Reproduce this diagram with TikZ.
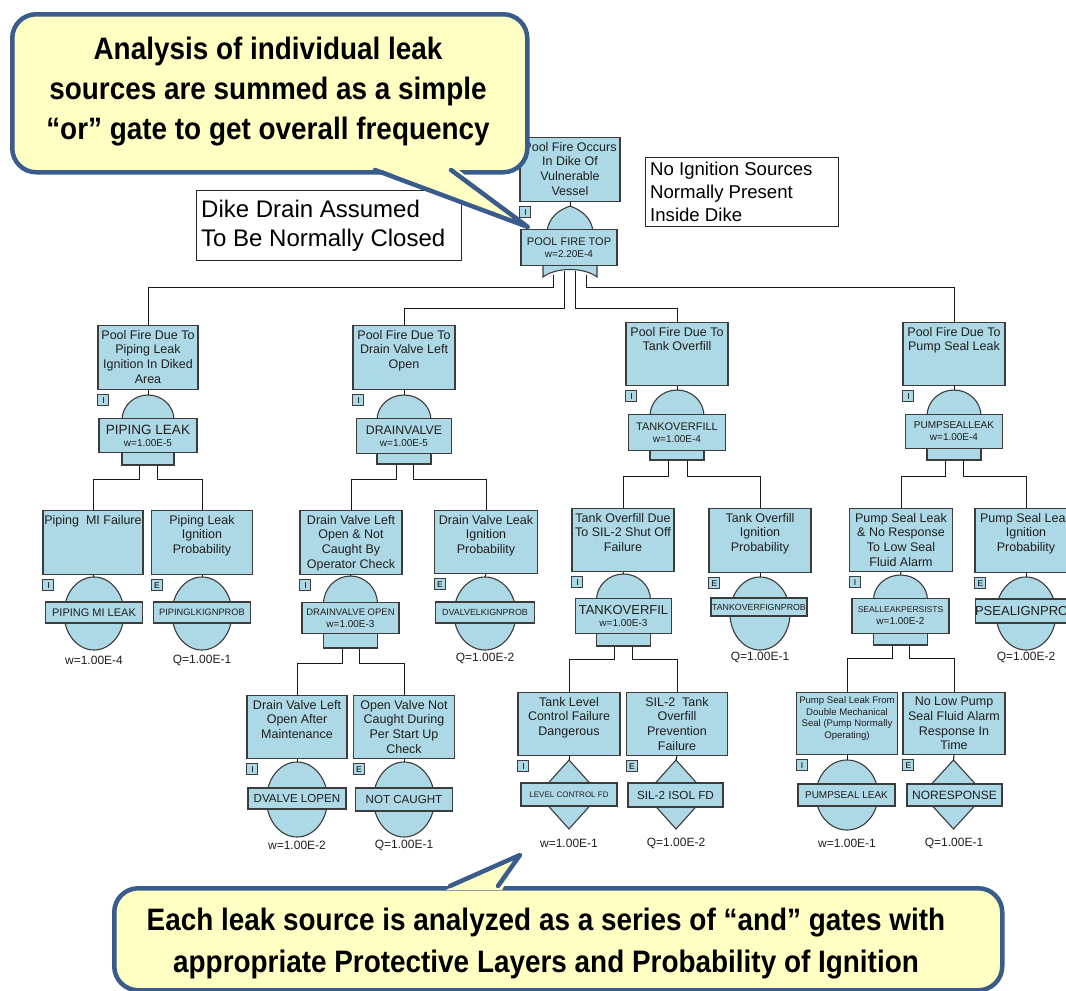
\documentclass[tikz,border=0pt]{standalone}
\usepackage{fontspec}
\setmainfont{Liberation Sans}
\newfontfamily\calloutfont{Liberation Sans}[FakeStretch=0.9]
\definecolor{evblue}{RGB}{173,216,230}
\definecolor{edge}{RGB}{60,60,60}
\definecolor{callline}{RGB}{58,92,140}
\definecolor{callfill}{RGB}{255,255,196}

% label font: size with fixed line spacing
\newcommand\lf[1]{\fontsize{#1}{15}\selectfont}
% description box with top-aligned text: name, cx, top, width, height, text
\newcommand\descnode[6]{%
  \node[descbox, minimum width=#4, minimum height=#5, anchor=north] (#1) at (#2,#3) {};
  \node[desctext, anchor=north] (#1-t) at (#2,#3+5) {#6};}
% small event-type flag under a description box
\newcommand\flagnode[2]{\node[flag] (#1-f) at ([yshift=-4pt]#1.south west) {#2};}
% AND gate: name, cx, dome top, label top, label bottom, foot bottom, dome half width, label width
\newcommand\andgate[8]{%
  \pgfmathsetmacro\domery{#4+2-#3}%
  \path[gate] (#2-#7,#4+2) arc[start angle=180,end angle=0,x radius=#7pt,y radius=\domery pt] -- cycle;
  \path[gate] (#2-#7,#5-2) rectangle (#2+#7,#6);
  \coordinate (#1-in) at (#2,#3);
  \node[lbl, minimum width=#8, minimum height={#5-#4}, anchor=north] (#1) at (#2,#4)}
% round basic event: name, cx, cy, rx, ry
\newcommand\circevent[5]{%
  \path[gate] (#2,#3) ellipse [x radius=#4pt, y radius=#5pt];
  \coordinate (#1-in) at (#2,#3-#5);}
% diamond event: name, cx, top, bottom, half width
\newcommand\diamevent[5]{%
  \path[gate] (#2,#3) -- (#2+#5,#3/2+#4/2) -- (#2,#4) -- (#2-#5,#3/2+#4/2) -- cycle;
  \coordinate (#1-in) at (#2,#3);}

\begin{document}
\begin{tikzpicture}[x=1pt,y=-1pt,
  wire/.style={draw=black!90, line width=1pt},
  descbox/.style={draw=edge, line width=1.1pt, fill=evblue, inner sep=0pt},
  desctext/.style={align=center, inner sep=0pt, text=black!88, font=\fontsize{12.5}{14.7}\selectfont},
  smalltext/.style={align=center, inner sep=0pt, text=black!88, font=\fontsize{9.6}{11.5}\selectfont},
  flag/.style={draw=edge, line width=1pt, fill=evblue, minimum width=11pt, minimum height=11pt, inner sep=0pt, anchor=north west, font=\fontsize{8.5}{9}\selectfont},
  gate/.style={draw=edge, line width=1.1pt, fill=evblue},
  lbl/.style={draw=edge, line width=1.1pt, fill=evblue, inner sep=0pt, align=center, text=black!88},
  prob/.style={inner sep=0pt, text=black!88, font=\fontsize{12}{14}\selectfont},
  notebox/.style={draw=black!85, line width=0.9pt, fill=white, inner sep=0pt, anchor=north west},
  notetext/.style={align=left, inner sep=0pt, anchor=north west},
  callbox/.style={draw=callline, line width=4.5pt, fill=callfill, rounded corners=24pt, inner sep=0pt, anchor=north west},
  calltext/.style={align=center, inner sep=0pt, font=\calloutfont\bfseries\fontsize{31}{40}\selectfont}
]
\useasboundingbox (0,0) rectangle (1066,991);
\fill[white] (0,0) rectangle (1066,991);

% ---------------- top event ----------------
\descnode{T}{570}{137}{100}{64}{Pool Fire Occurs\\In Dike Of\\Vulnerable\\Vessel}
\flagnode{T}{I}
\path[gate] (547,231) .. controls (549,217) and (559,210) .. (570,206) .. controls (581,210) and (591,217) .. (593,231) -- cycle;
\path[gate] (543,263) -- (543,277) .. controls (556,267) and (584,267) .. (597,277) -- (597,263) -- cycle;
\coordinate (G0-in) at (570,206);
\node[lbl, minimum width=96, minimum height=36, anchor=north] (G0) at (569,229) {\lf{11}POOL FIRE TOP\\\lf{10}w=2.20E-4};
\coordinate (G0-o1) at (553,275);
\coordinate (G0-o2) at (564,271);
\coordinate (G0-o3) at (575,271);
\coordinate (G0-o4) at (586,275);

% ---------------- first level ----------------
\descnode{A}{148}{325}{100}{64}{Pool Fire Due To\\Piping Leak\\Ignition In Diked\\Area}
\flagnode{A}{I}
\andgate{Ag}{148}{395}{418}{452}{465}{26}{98}{\lf{13.5}PIPING LEAK\\\lf{10}w=1.00E-5};

\descnode{B}{404}{325}{102}{64}{Pool Fire Due To\\Drain Valve Left\\Open}
\flagnode{B}{I}
\andgate{Bg}{404}{395}{418}{453}{464}{27}{95}{\lf{12.3}DRAINVALVE\\\lf{10}w=1.00E-5};

\descnode{C}{677}{322}{102}{63}{Pool Fire Due To\\Tank Overfill}
\flagnode{C}{I}
\andgate{Cg}{677}{390}{414}{450}{460}{27}{97}{\lf{11}TANKOVERFILL\\\lf{10}w=1.00E-4};

\descnode{D}{954}{322}{102}{63}{Pool Fire Due To\\Pump Seal Leak}
\flagnode{D}{I}
\andgate{Dg}{954}{390}{414}{448}{460}{27}{97}{\lf{10}PUMPSEALLEAK\\\lf{10}w=1.00E-4};

% ---------------- second level ----------------
\descnode{A1}{93}{510}{100}{64}{Piping\ \ MI Failure}
\flagnode{A1}{I}
\circevent{A1}{94}{613.5}{30}{36.5}
\node[lbl, minimum width=97, minimum height=21, font=\lf{11}] (A1l) at (94,612.5) {PIPING MI LEAK};
\node[prob] (A1p) at (94,660) {w=1.00E-4};

\descnode{A2}{202}{510}{101}{64}{Piping Leak\\Ignition\\Probability}
\flagnode{A2}{E}
\circevent{A2}{202}{613.5}{30}{36.5}
\node[lbl, minimum width=97, minimum height=21, font=\lf{9.3}] (A2l) at (202,612.5) {PIPINGLKIGNPROB};
\node[prob] (A2p) at (202,660) {Q=1.00E-1};

\descnode{B1}{351}{510}{102}{64}{Drain Valve Left\\Open \& Not\\Caught By\\Operator Check}
\flagnode{B1}{I}
\andgate{B1g}{350.5}{576}{602}{633}{648}{27}{97}{\lf{9.5}DRAINVALVE OPEN\\\lf{10}w=1.00E-3};

\descnode{B2}{486}{510}{103}{63}{Drain Valve Leak\\Ignition\\Probability}
\flagnode{B2}{E}
\circevent{B2}{485}{613.5}{31}{36.5}
\node[lbl, minimum width=99, minimum height=21, font=\lf{8.9}] (B2l) at (485,612.5) {DVALVELKIGNPROB};
\node[prob] (B2p) at (485,658) {Q=1.00E-2};

\descnode{C1}{623}{508}{102}{63}{Tank Overfill Due\\To SIL-2 Shut Off\\Failure}
\flagnode{C1}{I}
\andgate{C1g}{623.5}{574}{598}{633}{646}{27}{96}{\lf{13}TANKOVERFIL\\\lf{10}w=1.00E-3};

\descnode{C2}{760}{508}{102}{64}{Tank Overfill\\Ignition\\Probability}
\flagnode{C2}{E}
\circevent{C2}{760}{613.5}{30}{36.5}
\node[lbl, minimum width=96, minimum height=18, font=\lf{8.8}] (C2l) at (759,607) {TANKOVERFIGNPROB};
\node[prob] (C2p) at (760,657) {Q=1.00E-1};

\descnode{D1}{901}{508}{103}{63}{Pump Seal Leak\\\& No Response\\To Low Seal\\Fluid Alarm}
\flagnode{D1}{I}
\andgate{D1g}{900.5}{575}{598}{633}{645}{27}{97}{\lf{8.5}SEALLEAKPERSISTS\\\lf{10}w=1.00E-2};

\descnode{D2}{1026}{508}{102}{64}{Pump Seal Leak\\Ignition\\Probability}
\flagnode{D2}{E}
\circevent{D2}{1026}{613.5}{30}{36.5}
\node[lbl, minimum width=96, minimum height=24, font=\lf{13}] (D2l) at (1026,611) {PSEALIGNPROB};
\node[prob] (D2p) at (1026,657) {Q=1.00E-2};

% ---------------- third level ----------------
\descnode{B1a}{297}{695}{100}{63}{Drain Valve Left\\Open After\\Maintenance}
\flagnode{B1a}{I}
\circevent{B1a}{297}{799.5}{30.5}{37.5}
\node[lbl, minimum width=98, minimum height=21, font=\lf{11.6}] (B1al) at (297,798.5) {DVALVE LOPEN};
\node[prob] (B1ap) at (297,845) {w=1.00E-2};

\descnode{B1b}{404}{695}{101}{63}{Open Valve Not\\Caught During\\Per Start Up\\Check}
\flagnode{B1b}{E}
\circevent{B1b}{404}{799.5}{30.5}{37.5}
\node[lbl, minimum width=97, minimum height=23, font=\lf{11.6}] (B1bl) at (404,799.5) {NOT CAUGHT};
\node[prob] (B1bp) at (404,845) {Q=1.00E-1};

\descnode{C1a}{569}{692}{102}{63}{Tank Level\\Control Failure\\Dangerous}
\flagnode{C1a}{I}
\diamevent{C1a}{569}{760}{829}{31}
\node[lbl, minimum width=96, minimum height=23, font=\lf{8}] (C1al) at (569,794.5) {LEVEL CONTROL FD};
\node[prob] (C1ap) at (569,843) {w=1.00E-1};

\descnode{C1b}{677}{692}{101}{63}{SIL-2\ \ Tank\\Overfill\\Prevention\\Failure}
\flagnode{C1b}{E}
\diamevent{C1b}{676}{760}{829}{31}
\node[lbl, minimum width=95, minimum height=24, font=\lf{11.7}] (C1bl) at (675.5,795) {SIL-2 ISOL FD};
\node[prob] (C1bp) at (676,843) {Q=1.00E-2};

\node[descbox, minimum width=101, minimum height=62, anchor=north] (D1a) at (847,692) {};
\node[smalltext, anchor=north] (D1a-t) at (847,696.5) {Pump Seal Leak From\\Double Mechanical\\Seal (Pump Normally\\Operating)};
\flagnode{D1a}{I}
\circevent{D1a}{847}{795}{31}{35}
\node[lbl, minimum width=97, minimum height=22, font=\lf{10}] (D1al) at (846.5,795) {PUMPSEAL LEAK};
\node[prob] (D1ap) at (847,843) {w=1.00E-1};

\descnode{D1b}{954}{692}{102}{62}{No Low Pump\\Seal Fluid Alarm\\Response In\\Time}
\flagnode{D1b}{E}
\diamevent{D1b}{953.5}{760}{829}{31.5}
\node[lbl, minimum width=95, minimum height=22, font=\lf{12}] (D1bl) at (954.5,795) {NORESPONSE};
\node[prob] (D1bp) at (954,843) {Q=1.00E-1};

% ---------------- connectors ----------------
% description box down to its gate or event symbol
\foreach \d/\g in {T/G0, A/Ag, B/Bg, C/Cg, D/Dg, A1/A1, A2/A2, B1/B1g, B2/B2, C1/C1g, C2/C2,
                   D1/D1g, D2/D2, B1a/B1a, B1b/B1b, C1a/C1a, C1b/C1b, D1a/D1a, D1b/D1b}
  {\draw[wire] (\d.south) -- (\g-in);}

% gate outputs to the inputs of the next level
\draw[wire] (G0-o1) -- ++(0,12) -| (A.north);
\draw[wire] (G0-o2) -- ++(0,37) -| (B.north);
\draw[wire] (G0-o3) -- ++(0,37) -| (C.north);
\draw[wire] (G0-o4) -- ++(0,12) -| (D.north);

\draw[wire] (Ag.south -| 139,0) ++(0,13) -- ++(0,13) -| (A1.north);
\draw[wire] (Ag.south -| 157,0) ++(0,13) -- ++(0,13) -| (A2.north);
\draw[wire] (Bg.south -| 396,0) ++(0,11) -- ++(0,14) -| (B1.north);
\draw[wire] (Bg.south -| 413,0) ++(0,11) -- ++(0,14) -| (B2.north);
\draw[wire] (Cg.south -| 668,0) ++(0,10) -- ++(0,15) -| (C1.north);
\draw[wire] (Cg.south -| 687,0) ++(0,10) -- ++(0,15) -| (C2.north);
\draw[wire] (Dg.south -| 945,0) ++(0,12) -- ++(0,15) -| (D1.north);
\draw[wire] (Dg.south -| 963,0) ++(0,12) -- ++(0,15) -| (D2.north);

\draw[wire] (B1g.south -| 342,0) ++(0,15) -- ++(0,14) -| (B1a.north);
\draw[wire] (B1g.south -| 359,0) ++(0,15) -- ++(0,14) -| (B1b.north);
\draw[wire] (C1g.south -| 614,0) ++(0,13) -- ++(0,12) -| (C1a.north);
\draw[wire] (C1g.south -| 632,0) ++(0,13) -- ++(0,12) -| (C1b.north);
\draw[wire] (D1g.south -| 892,0) ++(0,12) -- ++(0,12) -| (D1a.north);
\draw[wire] (D1g.south -| 909,0) ++(0,12) -- ++(0,12) -| (D1b.north);

% ---------------- notes ----------------
\node[notebox, minimum width=265, minimum height=70] (dike) at (196,190) {};
\node[notetext, font=\fontsize{24}{29}\selectfont] (dike-t) at (201,200) {Dike Drain Assumed\\To Be Normally Closed};
\node[notebox, minimum width=193, minimum height=69] (noign) at (645,157) {};
\node[notetext, font=\fontsize{18.6}{23}\selectfont] (noign-t) at (650,162) {No Ignition Sources\\Normally Present\\Inside Dike};

% ---------------- callouts ----------------
\node[callbox, minimum width=515, minimum height=158] (call1) at (10,12) {};
\coordinate (call1-tip) at (528,227);
\fill[callfill] (372,166) -- (call1-tip) -- (454,166) -- cycle;
\draw[callline, line width=4.5pt, line join=round, line cap=round] (375,170) -- (call1-tip) -- (451,170);
\node[calltext] (call1-t) at (268,92) {Analysis of individual leak\\sources are summed as a simple\\“or” gate to get overall frequency};

\node[callbox, minimum width=888, minimum height=102] (call2) at (112,886) {};
\coordinate (call2-tip) at (520,855);
\fill[callfill] (446,890) -- (call2-tip) -- (502,890) -- cycle;
\draw[callline, line width=4.5pt, line join=round, line cap=round] (450,886) -- (call2-tip) -- (498,886);
\node[calltext, font=\calloutfont\bfseries\fontsize{31}{42}\selectfont] (call2-t) at (546,944) {Each leak source is analyzed as a series of “and” gates with\\appropriate Protective Layers and Probability of Ignition};
\end{tikzpicture}
\end{document}
